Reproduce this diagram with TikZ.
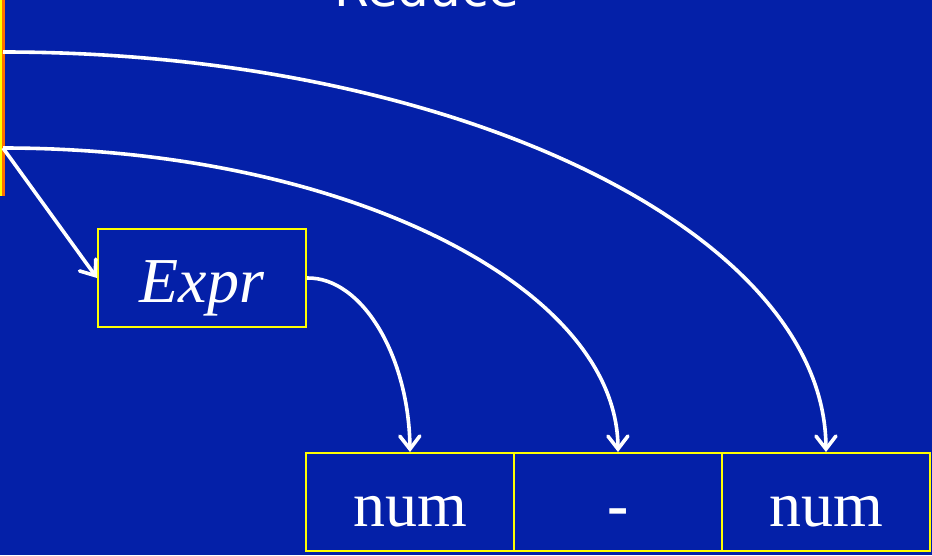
\documentclass[tikz,border=0pt]{standalone}
\usepackage{fontspec}
\setmainfont{Liberation Serif}
\newfontfamily\titlefont{DejaVu Sans}
\usetikzlibrary{arrows.meta}
\definecolor{slidebg}{RGB}{4,32,168}
\definecolor{boxline}{RGB}{255,255,0}
\definecolor{stackfill}{RGB}{255,110,0}
\begin{document}
\begin{tikzpicture}[x=1pt,y=-1pt,
  cellbox/.style={draw=boxline, line width=2pt, minimum width=208pt, minimum height=98pt,
    inner sep=0pt, text height=48pt, text depth=0pt, text=white, anchor=north west,
    font=\fontsize{64}{70}\selectfont},
  link/.style={draw=white, line width=3.6pt, -{Straight Barb[length=13pt,width=20pt,line cap=round]}}]
\fill[slidebg] (0,0) rectangle (932,555);
\useasboundingbox (0,0) rectangle (932,555);
% title (cut off at top, as in the reference)
\node[text=white, anchor=base, inner sep=0pt, font=\titlefont\fontsize{50}{56}\selectfont] (title) at (427,6) {Reduce};
% stack edge at left
\node[fill=stackfill, minimum width=5pt, minimum height=196pt, inner sep=0pt, anchor=north west] (stack) at (0,0) {};
\fill[boxline] (0,0) rectangle (1.8,196);
\coordinate (s1) at (3,52);
\coordinate (s2) at (3,148);
% boxes
\node[cellbox] (expr) at (97,228) {\itshape Expr};
\node[cellbox] (c1) at (305,452) {num};
\node[cellbox] (c2) at (513,452) {\bfseries -};
\node[cellbox] (c3) at (721,452) {num};
% connectors
\draw[link] (s2) -- (expr.west);
\draw[link] (s2) .. controls (341,148) and (617,285) .. (c2.north);
\draw[link] (s1) .. controls (455,52) and (825,232) .. (c3.north);
\draw[link] (expr.east) .. controls (362,277) and (409,356) .. (c1.north);
\end{tikzpicture}
\end{document}
